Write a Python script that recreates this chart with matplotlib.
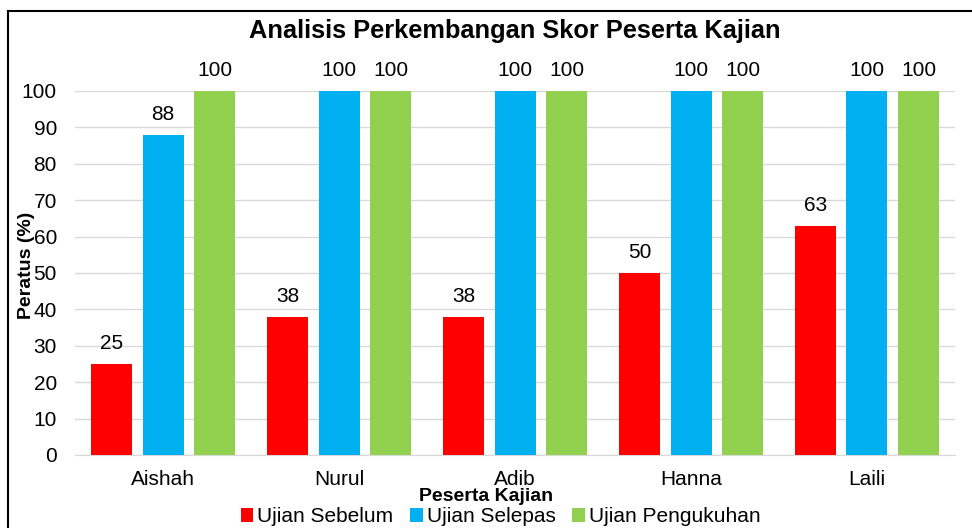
import numpy as np
import matplotlib.pyplot as plt
from matplotlib.lines import Line2D

peserta = ["Aishah", "Nurul", "Adib", "Hanna", "Laili"]
ujian_sebelum = [25, 38, 38, 50, 63]
ujian_selepas = [88, 100, 100, 100, 100]
ujian_pengukuhan = [100, 100, 100, 100, 100]

series = [
    ("Ujian Sebelum", ujian_sebelum, "#FF0000"),
    ("Ujian Selepas", ujian_selepas, "#00B0F0"),
    ("Ujian Pengukuhan", ujian_pengukuhan, "#92D050"),
]

plt.rcParams["font.family"] = ["Liberation Sans", "DejaVu Sans"]

fig = plt.figure(figsize=(9.72, 5.28), dpi=100)
ax = fig.add_axes([0.0772, 0.1383, 0.9053, 0.6894])

x = np.arange(len(peserta))
width = 0.233
offset = 0.293

for i, (name, vals, color) in enumerate(series):
    bars = ax.bar(x + (i - 1) * offset, vals, width, color=color, label=name, zorder=3)
    for b, v in zip(bars, vals):
        ax.annotate(str(v), (b.get_x() + b.get_width() / 2, v),
                    xytext=(0, 8), textcoords="offset points",
                    ha="center", va="bottom", fontsize=15,
                    annotation_clip=False)

ax.set_xlim(-0.5, len(peserta) - 0.5)
ax.set_ylim(0, 100)
ax.set_yticks(range(0, 101, 10))
ax.set_xticks(x)
ax.set_xticklabels(peserta)
ax.tick_params(axis="both", length=0, labelsize=15)
ax.tick_params(axis="x", pad=11)
ax.tick_params(axis="y", pad=13)
ax.grid(axis="y", color="#D9D9D9", linewidth=1, zorder=0)
for s in ["top", "right", "left"]:
    ax.spines[s].set_visible(False)
ax.spines["bottom"].set_color("#D9D9D9")

fig.text(0.530, 0.942, "Analisis Perkembangan Skor Peserta Kajian",
         ha="center", va="center", fontsize=18.3, fontweight="bold")
fig.text(0.5, 0.059, "Peserta Kajian", ha="center", va="center",
         fontsize=14, fontweight="bold")
fig.text(0.027, 0.497, "Peratus (%)", ha="center", va="center",
         rotation=90, fontsize=14, fontweight="bold")

fig.legend(loc="center", bbox_to_anchor=(0.515, 0.021), ncol=3, frameon=False,
           fontsize=15, handlelength=0.6, handleheight=0.6,
           handletextpad=0.2, columnspacing=0.8, borderpad=0)

# chart frame (top and left edges only are visible)
fig.add_artist(Line2D([8 / 972, 1], [1 - 11 / 528, 1 - 11 / 528], color="black", linewidth=1.5))
fig.add_artist(Line2D([8 / 972, 8 / 972], [0, 1 - 11 / 528], color="black", linewidth=1.5))

fig.savefig("out.png", dpi=100)
